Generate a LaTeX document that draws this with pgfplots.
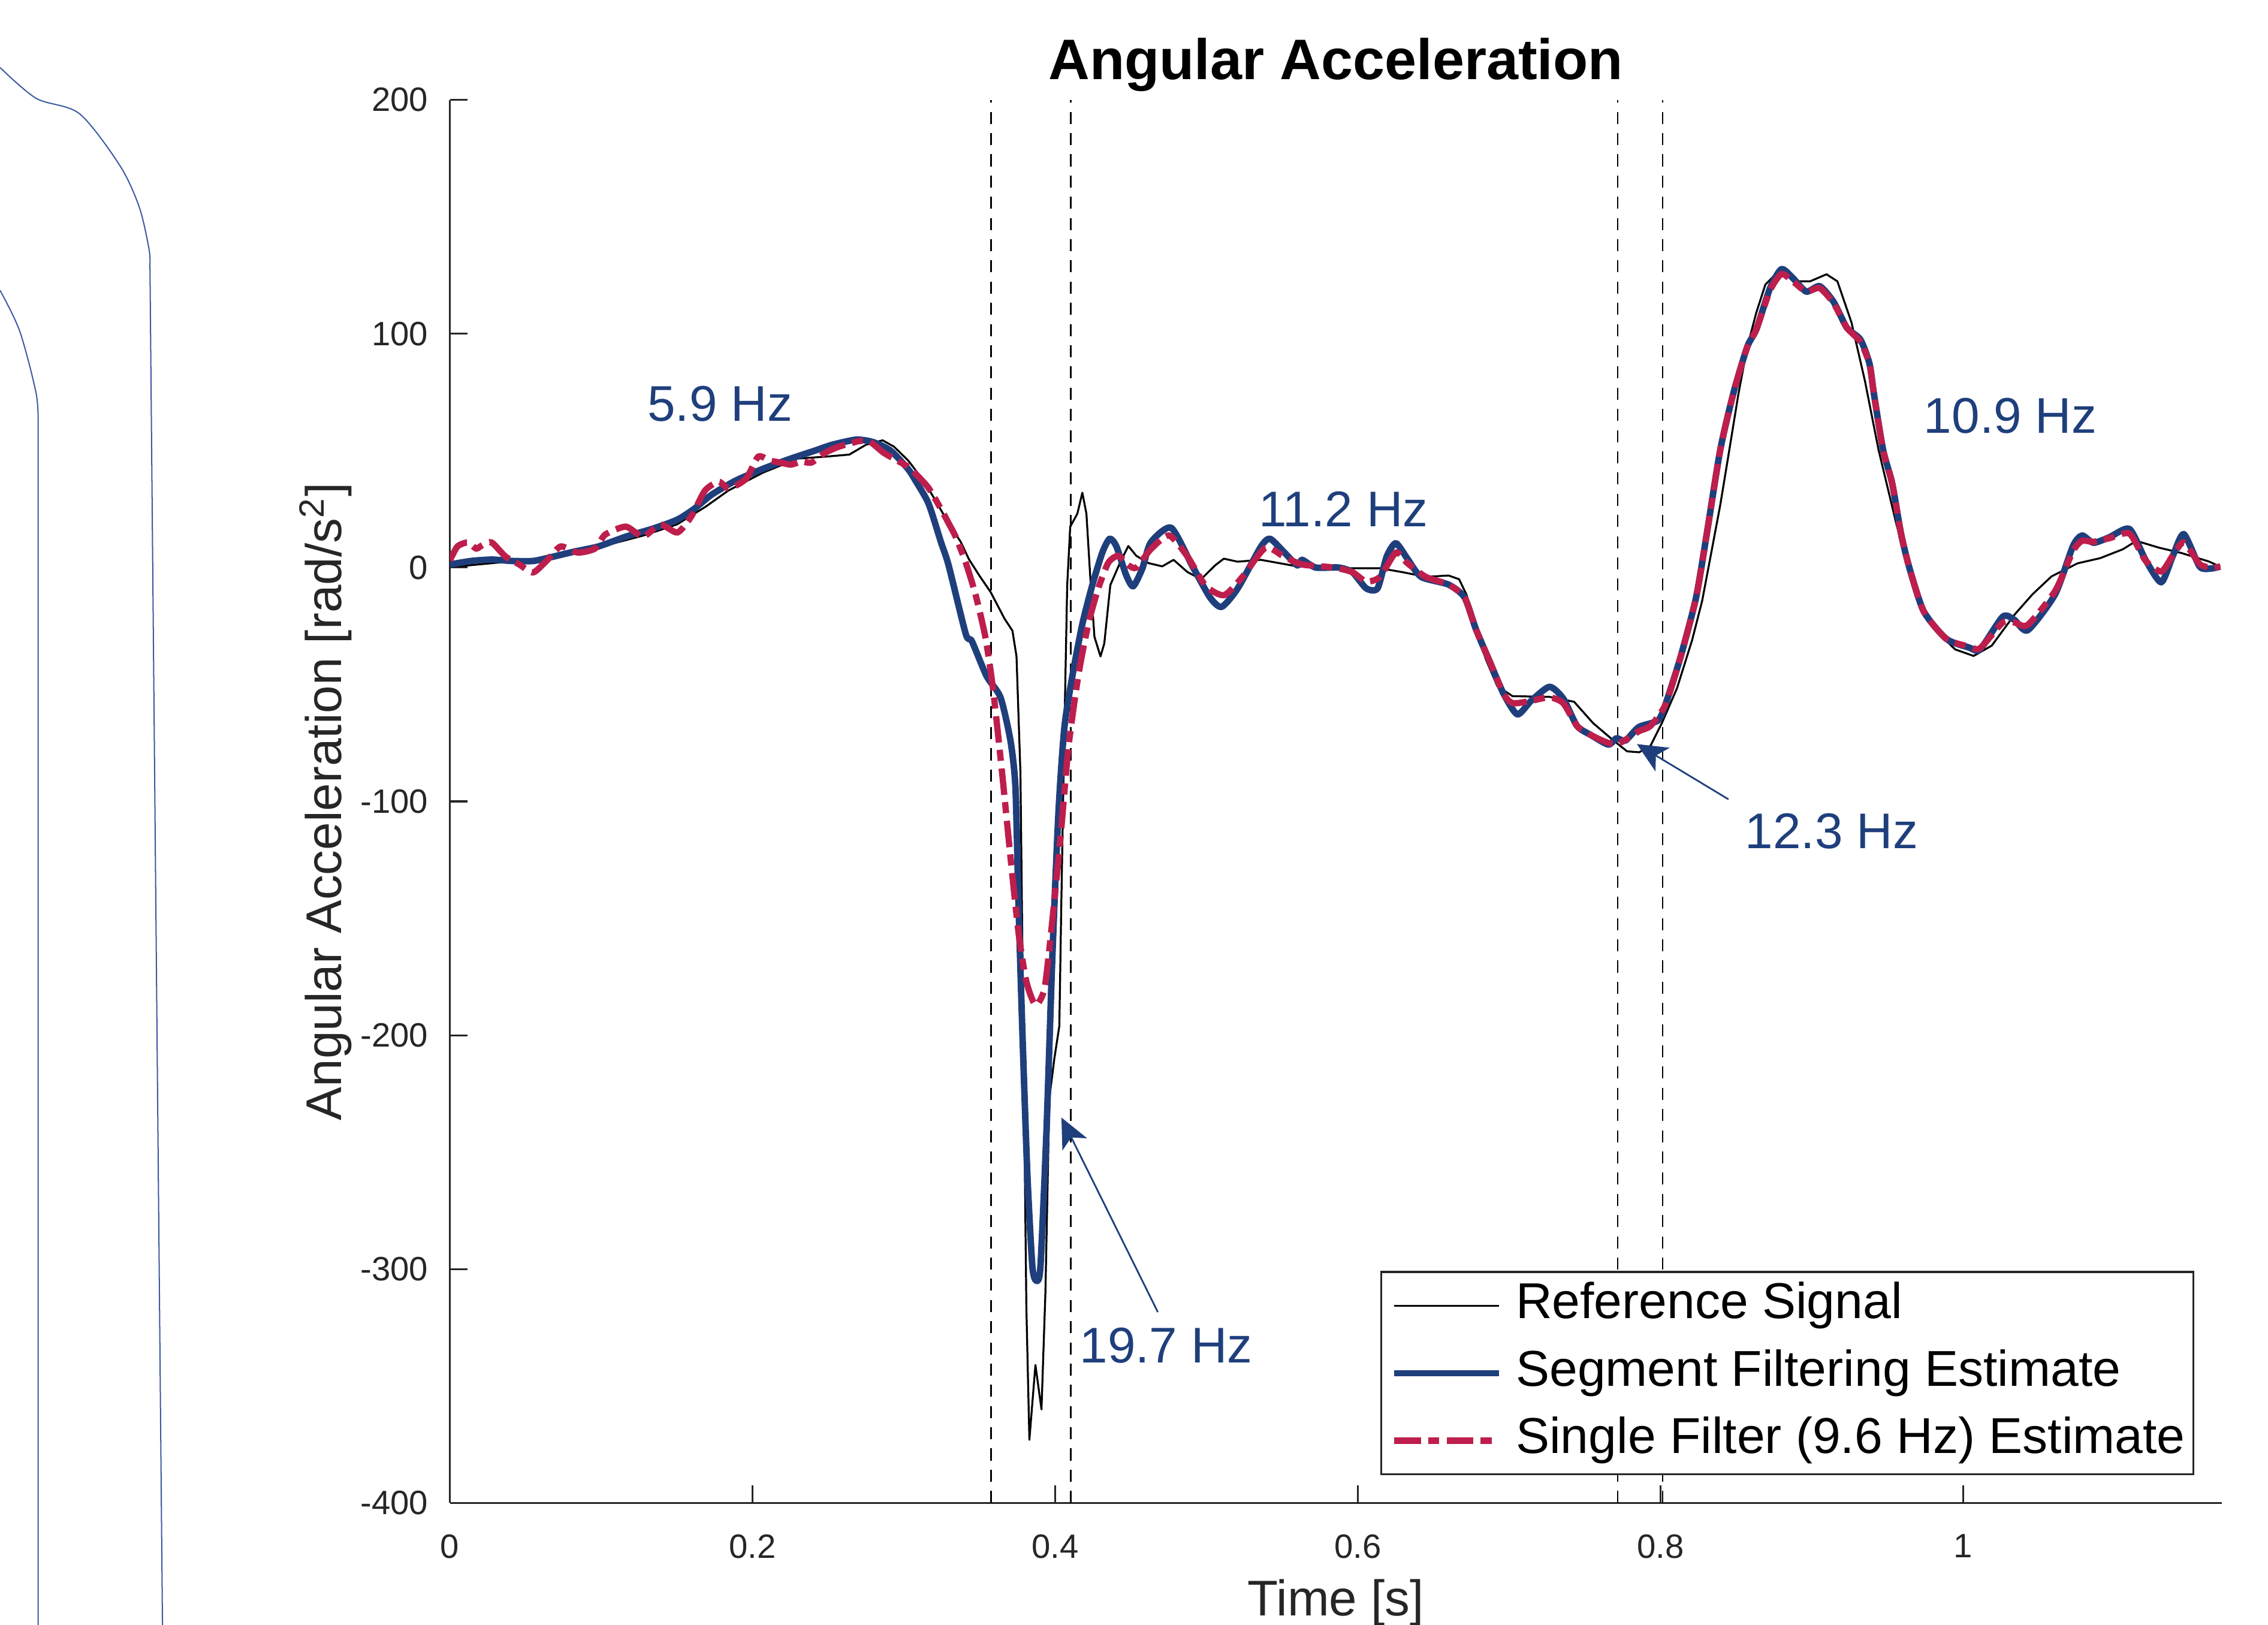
\documentclass[border=0pt]{standalone}
\usepackage{fontspec}
\setmainfont{Liberation Sans}
\usepackage{pgfplots}
\pgfplotsset{compat=1.18}
\usetikzlibrary{arrows.meta}
\definecolor{segblue}{RGB}{31,63,124}
\definecolor{sfred}{RGB}{190,30,76}
\definecolor{axgray}{RGB}{38,38,38}
\definecolor{strayblue}{RGB}{60,90,160}

\begin{document}
\begin{tikzpicture}
\useasboundingbox (-93.3pt,-25.2pt) rectangle (377.1pt,311.7pt);
% partial neighbouring figure at the left edge
\draw[strayblue, line width=0.25pt] plot[smooth, tension=0.5] coordinates {(-93.3pt,297.7pt) (-85.8pt,291.3pt) (-76.8pt,288.1pt) (-68.4pt,277.3pt) (-64.4pt,268.7pt) (-62.4pt,260.1pt) (-62.2pt,256.9pt)} -- (-59.6pt,-25.3pt);
\draw[strayblue, line width=0.25pt] plot[smooth, tension=0.5] coordinates {(-93.3pt,251.5pt) (-89.2pt,243pt) (-85.8pt,230.1pt) (-85.4pt,223.6pt)} -- (-85.4pt,-25.3pt);

\begin{axis}[
  scale only axis, width=367.5pt, height=291pt,
  xmin=0, xmax=1.171, ymin=-400, ymax=200,
  axis lines*=left,
  axis line style={axgray, line width=0.4pt, -},
  tick align=inside, major tick length=3.7pt,
  tick style={axgray, line width=0.4pt},
  xtick={0,0.2,0.4,0.6,0.8,1},
  xticklabels={0,0.2,0.4,0.6,0.8,1},
  ytick={-400,-300,-200,-100,0,100,200},
  yticklabels={-400,-300,-200,-100,0,100,200},
  ticklabel style={font=\fontsize{7}{8.4}\selectfont, text=axgray},
  xticklabel style={yshift=-3pt},
  yticklabel style={xshift=-1pt},
  xlabel={Time [s]},
  ylabel={Angular Acceleration [rad/s\textsuperscript{2}]},
  label style={font=\fontsize{10.4}{12}\selectfont, text=axgray},
  xlabel style={at={(axis description cs:0.5,-0.0804)}, anchor=base},
  ylabel style={at={(axis description cs:-0.0612,0.5)}, anchor=base, rotate=0},
  title={Angular Acceleration},
  title style={font=\bfseries\fontsize{11.85}{14}\selectfont, at={(axis description cs:0.5,1.0165)}, anchor=base, yshift=-6.6pt},
  legend cell align=left,
  legend style={at={(0.9845,0.0196)}, anchor=south east, draw=axgray, line width=0.4pt,
    font=\fontsize{10.45}{12}\selectfont, inner xsep=0.2pt, inner ysep=0.65pt, row sep=1.3pt,
    nodes={inner sep=1.5pt, text height=7.5pt, text depth=2.2pt}},
  legend image code/.code={\draw[#1] (2.5pt,0pt) -- (24.2pt,0pt); \path[draw=none] (0pt,0pt) -- (26.2pt,0pt);},
]

% segment boundaries
\addplot[forget plot, black, line width=0.3pt, dash pattern=on 2.5pt off 1.9pt] coordinates {(0.3576,-400) (0.3576,200)};
\addplot[forget plot, black, line width=0.3pt, dash pattern=on 2.5pt off 1.9pt] coordinates {(0.4103,-400) (0.4103,200)};
\addplot[forget plot, black, line width=0.3pt, dash pattern=on 2.5pt off 1.9pt] coordinates {(0.7719,-400) (0.7719,200)};
\addplot[forget plot, black, line width=0.3pt, dash pattern=on 2.5pt off 1.9pt] coordinates {(0.8014,-400) (0.8014,200)};

\addplot[black, line width=0.4pt, line join=round] table {
t v
0.000 0.5
0.012 0.9
0.030 2.0
0.048 2.8
0.066 3.9
0.082 6.0
0.105 9.8
0.128 13.7
0.150 18.4
0.169 26.0
0.184 32.9
0.207 40.6
0.230 46.6
0.248 47.4
0.264 48.3
0.275 52.5
0.286 54.4
0.2935 51.7
0.303 45.7
0.314 36.3
0.322 27.5
0.330 18.5
0.3377 10.9
0.343 3.6
0.350 -3.5
0.3574 -10.5
0.3666 -21.9
0.3718 -27.0
0.3745 -38.0
0.3771 -88
0.379 -199
0.381 -316
0.383 -373
0.387 -341
0.391 -360
0.3936 -310
0.3962 -227
0.3995 -210
0.4028 -196
0.4041 -144
0.406 -74
0.408 -7.5
0.410 17.5
0.4147 23
0.418 32
0.4207 23
0.4233 -4.7
0.426 -29.6
0.430 -38
0.4325 -32.5
0.4365 -7.5
0.443 2.2
0.4484 9.2
0.4537 5.0
0.4617 1.9
0.4708 0.5
0.4783 3.3
0.4874 -1.9
0.4965 -5.0
0.5057 0.9
0.5115 3.8
0.5206 2.5
0.5359 3.3
0.548 1.9
0.560 0.5
0.5844 -0.3
0.6147 -0.3
0.6298 -2.0
0.645 -4.0
0.660 -3.4
0.667 -5.0
0.672 -11.8
0.677 -23.0
0.6845 -39.0
0.6922 -50.7
0.7023 -55.0
0.7267 -55.3
0.743 -57.4
0.7555 -66.5
0.768 -73.4
0.778 -78.6
0.786 -79.0
0.7935 -76.2
0.801 -66.5
0.811 -51.6
0.821 -31.0
0.8276 -14.3
0.8336 6.2
0.8396 26.8
0.8456 50.4
0.8515 73.9
0.8575 94.5
0.8634 109.0
0.8694 121.0
0.8783 126.8
0.8902 122.4
0.899 122.4
0.9098 125.4
0.917 122.4
0.9263 104.8
0.9352 79.8
0.9442 50.3
0.9562 18.0
0.971 -15.8
0.983 -27.6
0.9948 -35.0
1.007 -37.8
1.019 -33.4
1.034 -20.2
1.046 -11.4
1.0585 -3.8
1.0757 1.8
1.0906 4.0
1.1056 7.8
1.1146 11.4
1.1295 8.5
1.1444 6.2
1.1624 2.6
1.170 0.4
};
\addlegendentry{Reference Signal}

\addplot[segblue, line width=1.35pt, smooth, tension=0.4, line join=round] table {
t v
0.000 1.3
0.014 2.8
0.0277 3.4
0.0414 2.8
0.055 2.8
0.066 4.3
0.0822 6.8
0.0981 9.0
0.1163 13.2
0.1345 16.7
0.1504 20.5
0.1617 25.2
0.1731 31.2
0.189 37.2
0.2073 42.3
0.2254 46.6
0.2413 50.0
0.2527 52.5
0.2686 54.7
0.2799 53.6
0.2913 50.0
0.3026 42.3
0.3079 37.0
0.3164 27.3
0.3245 11.0
0.3296 1.0
0.341 -28.5
0.345 -31.5
0.3547 -46.4
0.3639 -55.5
0.3705 -74
0.3738 -94
0.3758 -143.6
0.3784 -199
0.3817 -260
0.385 -299
0.3877 -305
0.3903 -299
0.3943 -241
0.3982 -166
0.4022 -105
0.4061 -68.6
0.4114 -46.4
0.418 -24.2
0.4246 -7.5
0.4312 6.4
0.436 12.3
0.4404 9.2
0.447 -3.3
0.4516 -8.0
0.4576 -0.5
0.4632 10.7
0.4767 17.0
0.4905 0.9
0.5024 -12.8
0.5101 -16.8
0.5207 -8.9
0.5359 8.8
0.542 12.3
0.551 6.8
0.5601 0.9
0.5632 3.3
0.5722 0.0
0.5874 0.0
0.5965 -2.0
0.6056 -8.9
0.6131 -8.9
0.6192 4.8
0.6252 10.4
0.6328 3.8
0.6419 -4.0
0.660 -7.3
0.6706 -12.8
0.6782 -26.5
0.6873 -40.3
0.6964 -54.0
0.7055 -62.8
0.7146 -57.0
0.7267 -51.0
0.7358 -56.0
0.7449 -67.7
0.754 -71.6
0.7656 -75.7
0.771 -73.0
0.7769 -74.0
0.7858 -68.2
0.7984 -65.4
0.8034 -58.5
0.8135 -37.9
0.8236 -12.8
0.8305 13.7
0.8396 50.4
0.8486 75.4
0.8575 94.5
0.8634 101.8
0.8725 119.5
0.880 127.6
0.8874 123.9
0.8964 118.0
0.9053 120.3
0.9145 113.6
0.9232 102.6
0.9322 97.5
0.9382 87.2
0.9412 74.0
0.9472 50.3
0.9532 36.0
0.9592 14.0
0.965 -1.1
0.9741 -18.8
0.989 -30.5
1.004 -34.2
1.0113 -35.0
1.0263 -21.0
1.034 -22.4
1.0428 -26.8
1.0609 -11.4
1.0727 9.2
1.0787 13.7
1.0862 10.6
1.0966 12.9
1.110 16.5
1.1206 3.3
1.131 -6.3
1.1385 4.7
1.1459 14.3
1.1564 0.4
1.1639 -0.4
1.170 0.4
};
\addlegendentry{Segment Filtering Estimate}

\addplot[sfred, line width=1.3pt, smooth, tension=0.4, dash pattern=on 5.5pt off 1.5pt on 2.3pt off 1.6pt] table {
t v
0.000 3.0
0.005 9.0
0.0118 10.7
0.0175 8.1
0.022 9.8
0.0277 10.7
0.0368 4.7
0.0459 1.3
0.055 -2.1
0.0641 3.0
0.0732 9.0
0.0845 6.4
0.0959 8.1
0.1027 14.1
0.1163 17.5
0.1277 13.2
0.139 18.4
0.1504 15.0
0.1595 21.8
0.1686 32.9
0.1777 36.7
0.1845 33.8
0.1958 38.0
0.2038 47.4
0.2117 45.7
0.2185 44.9
0.2254 44.0
0.2322 45.3
0.239 44.9
0.2481 49.1
0.2572 51.7
0.2708 54.1
0.2776 53.8
0.2867 49.1
0.2958 45.7
0.3026 43.2
0.308 40.0
0.3164 34.0
0.3246 25.0
0.3296 19.0
0.3344 13.0
0.341 2.0
0.3476 -12.0
0.354 -30.0
0.359 -52.0
0.365 -88.0
0.371 -127.0
0.376 -157.0
0.381 -177.0
0.387 -187.0
0.393 -180.0
0.398 -152.0
0.4035 -116.0
0.4088 -77.0
0.4154 -46.0
0.422 -24.0
0.4285 -9.0
0.4351 2.0
0.4417 5.0
0.4484 1.0
0.4537 0.0
0.4632 7.8
0.4753 13.7
0.4874 4.8
0.4995 -7.8
0.5117 -11.8
0.5238 -4.0
0.5389 8.4
0.551 4.8
0.5632 1.3
0.5844 0.0
0.5965 -2.0
0.6056 -6.0
0.6147 -4.0
0.6252 6.4
0.6328 1.9
0.645 -4.0
0.660 -7.3
0.6706 -12.8
0.6782 -26.5
0.6873 -40.3
0.6964 -54.0
0.7025 -58.0
0.7146 -57.0
0.7267 -55.5
0.7358 -58.0
0.7449 -67.7
0.754 -71.6
0.7656 -75.0
0.7732 -75.0
0.7858 -70.0
0.7935 -67.7
0.8034 -58.5
0.8135 -37.9
0.8236 -12.8
0.8305 13.7
0.8396 50.4
0.8486 75.4
0.8575 94.5
0.8634 101.8
0.8725 118.5
0.880 125.5
0.8874 122.5
0.8964 118.0
0.9053 119.5
0.9145 113.0
0.9232 102.6
0.9322 96.5
0.9382 87.0
0.9412 74.0
0.9472 50.3
0.9532 36.0
0.9592 14.0
0.965 -1.1
0.9741 -18.8
0.989 -30.5
1.004 -33.8
1.0113 -34.5
1.0263 -23.5
1.034 -23.5
1.0428 -24.5
1.0609 -10.0
1.0727 7.0
1.0787 11.4
1.0862 11.0
1.0966 12.5
1.110 14.5
1.1206 3.0
1.131 -1.7
1.1385 5.0
1.1459 10.7
1.1564 1.5
1.1639 0.0
1.170 0.4
};
\addlegendentry{Single Filter (9.6 Hz) Estimate}

% annotations
\node[text=segblue, font=\fontsize{10.4}{12}\selectfont] at (axis cs:0.1785,70) {5.9 Hz};
\node[text=segblue, font=\fontsize{10.4}{12}\selectfont] at (axis cs:0.5906,25.1) {11.2 Hz};
\node[text=segblue, font=\fontsize{10.4}{12}\selectfont] at (axis cs:1.0313,65) {10.9 Hz};
\node[text=segblue, font=\fontsize{10.4}{12}\selectfont] at (axis cs:0.9132,-112.8) {12.3 Hz};
\node[text=segblue, font=\fontsize{10.4}{12}\selectfont] at (axis cs:0.4734,-332.7) {19.7 Hz};
\draw[segblue, line width=0.35pt, -{Stealth[length=6.2pt,width=5.7pt,inset=1.6pt]}] (axis cs:0.4679,-318.4) -- (axis cs:0.4042,-235.2);
\draw[segblue, line width=0.35pt, -{Stealth[length=6.2pt,width=5.7pt,inset=1.6pt]}] (axis cs:0.845,-99.1) -- (axis cs:0.7845,-75.5);
\end{axis}
\end{tikzpicture}
\end{document}
